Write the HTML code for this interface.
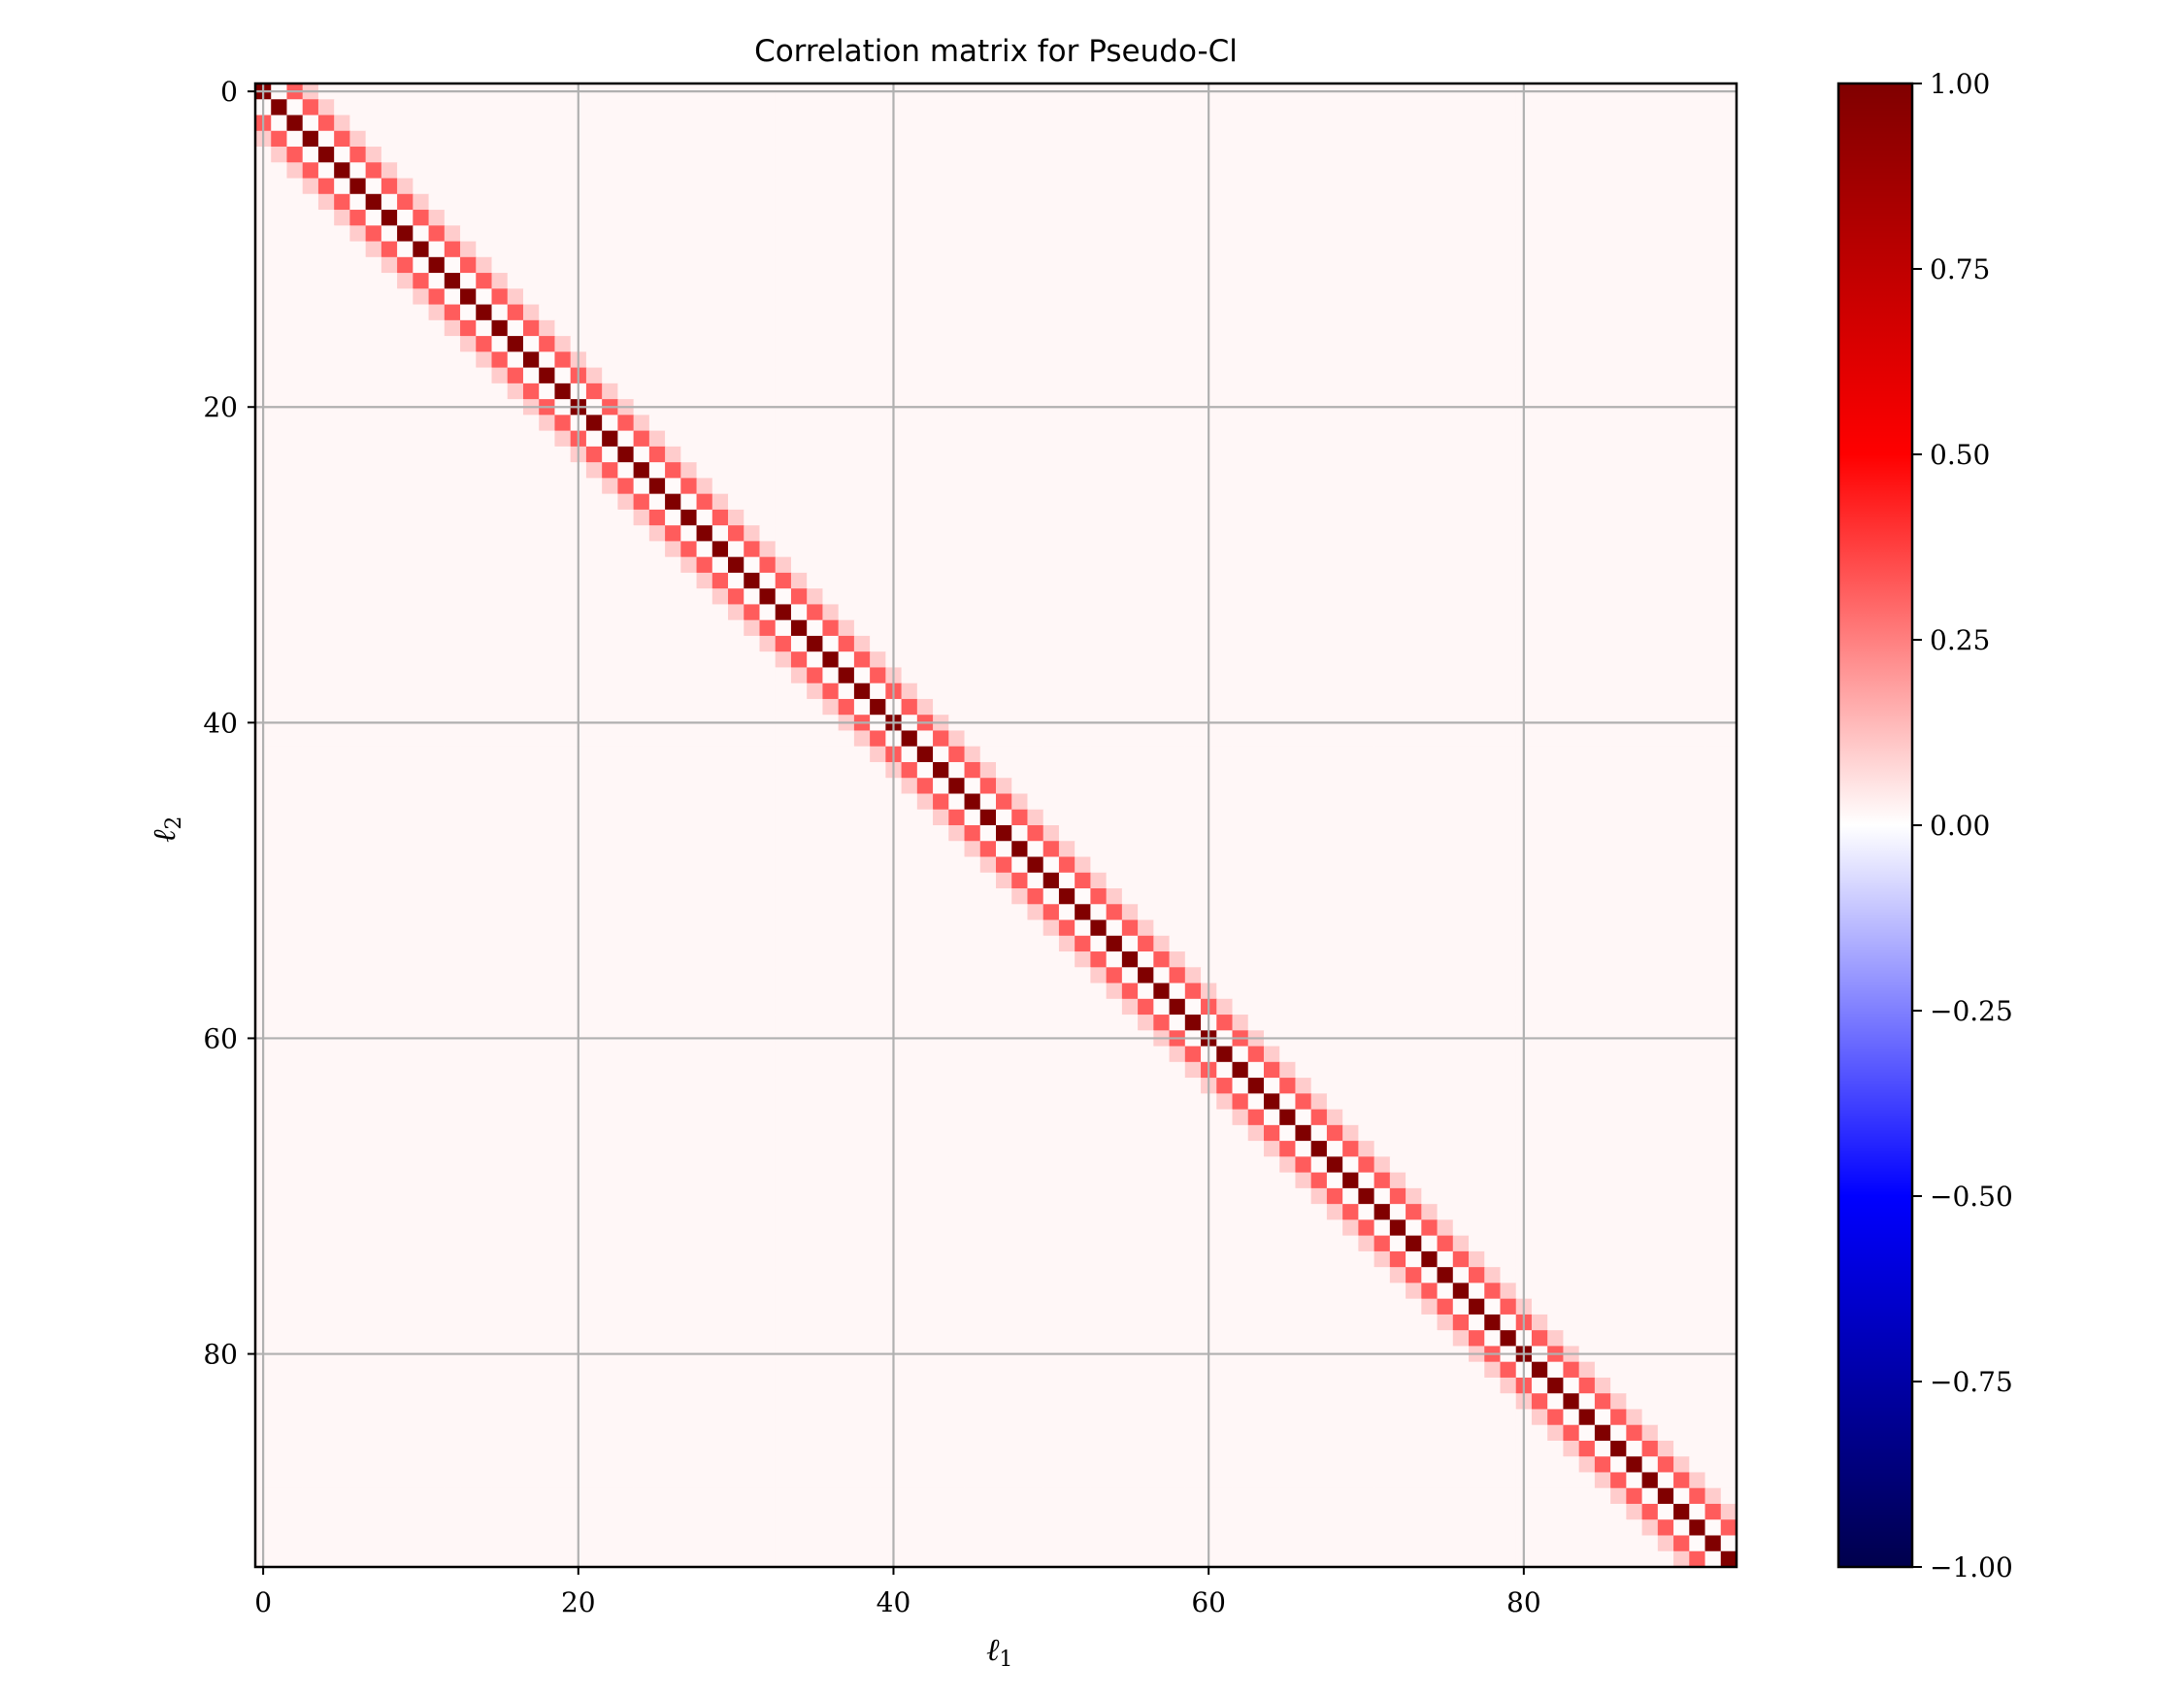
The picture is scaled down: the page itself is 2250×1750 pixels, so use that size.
<!DOCTYPE html>
<html><head><meta charset="utf-8"><style>
html,body{margin:0;padding:0;background:#fff;}
svg{display:block;}
.t{font-family:"DejaVu Serif","Liberation Serif",serif;font-size:28px;fill:#000;}
</style></head><body>
<svg id="chart" width="2250" height="1750" viewBox="0 0 2250 1750" xmlns="http://www.w3.org/2000/svg">
<defs>
<linearGradient id="cmap" x1="0" y1="1" x2="0" y2="0">
<stop offset="0" stop-color="#00004c"/><stop offset="0.25" stop-color="#0000ff"/>
<stop offset="0.5" stop-color="#ffffff"/><stop offset="0.75" stop-color="#ff0000"/>
<stop offset="1" stop-color="#800000"/>
</linearGradient>
</defs>
<text x="1026" y="63" text-anchor="middle" style="font-family:'DejaVu Sans','Liberation Sans',sans-serif;font-size:31px;">Correlation matrix for Pseudo-Cl</text>
<g id="cells"></g>
<g id="grid"></g>
<rect x="263" y="86" width="1526" height="1528" fill="none" stroke="#000" stroke-width="2.5"/>
<g id="ticks"></g>
<text class="t" x="1016" y="1710" style="font-style:italic;font-size:32px;">ℓ<tspan font-size="22" font-style="normal" dy="6">1</tspan></text>
<text class="t" transform="translate(180,868) rotate(-90)" style="font-style:italic;font-size:32px;">ℓ<tspan font-size="22" font-style="normal" dy="6">2</tspan></text>
<rect x="1894" y="86" width="76" height="1528" fill="url(#cmap)" stroke="#000" stroke-width="2.5"/>
<g id="cbticks"></g>
</svg>
<script>
const N = 94;
const bandOffsets = [0, 1, 2, 3];
const bandValues = [1.0, 0.01, 0.32, 0.1];
const backgroundValue = 0.015;
const axisTicks = [0, 20, 40, 60, 80];
const cbTicks = [1.0, 0.75, 0.5, 0.25, 0.0, -0.25, -0.5, -0.75, -1.0];
const cbLabels = ["1.00","0.75","0.50","0.25","0.00","\u22120.25","\u22120.50","\u22120.75","\u22121.00"];

const L=263, T=86, W=1526, H=1528, CB_X=1970;
const cw=W/N, ch=H/N;
const xs=i=>L+i*cw, ys=j=>T+j*ch;
const cbY=v=>T+(1-v)/2*H;
const NS="http://www.w3.org/2000/svg";
function seismic(v){
  v=Math.max(-1,Math.min(1,v));
  let r,g,b;
  if(v<-0.5){const t=(v+1)/0.5;r=0;g=0;b=0.3+0.7*t;}
  else if(v<0){const t=(v+0.5)/0.5;r=t;g=t;b=1;}
  else if(v<0.5){const t=v/0.5;r=1;g=1-t;b=1-t;}
  else{const t=(v-0.5)/0.5;r=1-0.5*t;g=0;b=0;}
  return `rgb(${Math.round(r*255)},${Math.round(g*255)},${Math.round(b*255)})`;
}
function valueAt(i,j){
  const d=Math.abs(i-j);
  const k=bandOffsets.indexOf(d);
  return k>=0?bandValues[k]:backgroundValue;
}
const cells=document.getElementById('cells');
for(let j=0;j<N;j++)for(let i=0;i<N;i++){
  const r=document.createElementNS(NS,'rect');
  
  
  r.setAttribute('x',xs(i));r.setAttribute('y',ys(j));
  r.setAttribute('width',cw+0.6);r.setAttribute('height',ch+0.6);
  r.setAttribute('fill',seismic(valueAt(i,j)));
  cells.appendChild(r);
}
const grid=document.getElementById('grid'), ticks=document.getElementById('ticks');
function line(p,x1,y1,x2,y2,st,w,name){
  const l=document.createElementNS(NS,'line');
  
  
  l.setAttribute('x1',x1);l.setAttribute('y1',y1);l.setAttribute('x2',x2);l.setAttribute('y2',y2);
  l.setAttribute('stroke',st);l.setAttribute('stroke-width',w);p.appendChild(l);
}
function text(p,x,y,s,anchor,name){
  const t=document.createElementNS(NS,'text');
  
  
  t.setAttribute('class','t');t.setAttribute('x',x);t.setAttribute('y',y);
  t.setAttribute('text-anchor',anchor);t.textContent=s;p.appendChild(t);
}
axisTicks.forEach(v=>{
  const x=xs(v+0.5), y=ys(v+0.5);
  line(grid,x,T,x,T+H,'#b0b0b0',2.2,'x-grid-line');
  line(grid,L,y,L+W,y,'#b0b0b0',2.2,'y-grid-line');
  line(ticks,x,T+H,x,T+H+8,'#000',2,'x-tick');
  line(ticks,L,y,L-8,y,'#000',2,'y-tick');
  text(ticks,x,T+H+46,String(v),'middle','x-tick-label');
  text(ticks,L-18,y+10,String(v),'end','y-tick-label');
});
const cbt=document.getElementById('cbticks');
cbTicks.forEach((v,k)=>{
  const y=cbY(v);
  line(cbt,CB_X,y,CB_X+10,y,'#000',2,'colorbar-tick');
  text(cbt,CB_X+18,y+10,cbLabels[k],'start','colorbar-tick-label');
});
</script>
</body></html>
